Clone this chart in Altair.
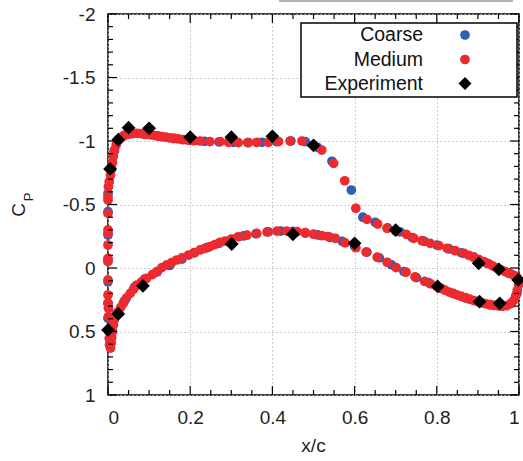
import altair as alt
import pandas as pd

# ---------------- data ----------------
# Medium grid (red)
med_x = [
    # leading-edge vertical string
    0.001, 0.0, 0.0, 0.0, 0.0, 0.0, 0.0, 0.0, 0.0, 0.0, 0.0, 0.0, 0.001, 0.001, 0.002, 0.003, 0.004, 0.006,
    # upper surface
    0.003, 0.006, 0.009, 0.011, 0.013, 0.016, 0.020, 0.024, 0.029, 0.035, 0.041, 0.047, 0.054, 0.062,
    0.071, 0.080, 0.088, 0.096, 0.105, 0.114, 0.122, 0.131, 0.140, 0.150, 0.160, 0.171, 0.183, 0.195,
    0.209, 0.224, 0.248, 0.273, 0.293, 0.317, 0.342, 0.362, 0.390, 0.415, 0.443, 0.472, 0.500, 0.520,
    0.549, 0.576, 0.603, 0.630, 0.656, 0.679, 0.700, 0.726, 0.744, 0.764, 0.784, 0.805, 0.825, 0.845,
    0.866, 0.878, 0.890, 0.902, 0.914, 0.926, 0.937, 0.947, 0.957, 0.966, 0.975, 0.983, 0.990, 0.995, 0.999,
    # lower surface, trailing edge forward
    0.999, 0.996, 0.992, 0.987, 0.980, 0.970, 0.960, 0.950, 0.940, 0.930, 0.920, 0.910, 0.900, 0.890,
    0.880, 0.870, 0.860, 0.850, 0.840, 0.830, 0.820, 0.810, 0.800, 0.785, 0.770, 0.747, 0.725, 0.701,
    0.679, 0.655, 0.628, 0.603, 0.577, 0.553, 0.535, 0.520, 0.500, 0.480, 0.460, 0.435, 0.411, 0.387,
    0.362, 0.338, 0.317, 0.301, 0.285, 0.273, 0.260, 0.248, 0.236, 0.224, 0.210, 0.196, 0.180, 0.167,
    0.155, 0.143, 0.131, 0.119, 0.108, 0.094, 0.082, 0.070, 0.062, 0.054, 0.045, 0.037, 0.031, 0.025,
    0.019, 0.015, 0.013, 0.011, 0.009, 0.008,
]
med_cp = [
    -0.640, -0.562, -0.535, -0.430, -0.300, -0.273, -0.181, -0.076, -0.050, 0.094, 0.213, 0.278, 0.317, 0.383, 0.500, 0.554, 0.606, 0.630,
    -0.680, -0.730, -0.780, -0.830, -0.880, -0.930, -0.970, -1.000, -1.020, -1.035, -1.046, -1.052, -1.056, -1.060,
    -1.060, -1.058, -1.055, -1.052, -1.048, -1.043, -1.038, -1.034, -1.030, -1.025, -1.020, -1.016, -1.010, -1.006,
    -1.002, -1.000, -0.995, -0.995, -0.990, -0.987, -0.987, -0.990, -0.990, -0.995, -1.000, -1.000, -0.968, -0.929,
    -0.824, -0.687, -0.470, -0.383, -0.346, -0.313, -0.290, -0.265, -0.234, -0.215, -0.194, -0.176, -0.155, -0.136,
    -0.116, -0.100, -0.085, -0.068, -0.050, -0.033, -0.015, 0.000, 0.015, 0.028, 0.040, 0.050, 0.062, 0.075, 0.095,
    0.130, 0.175, 0.220, 0.255, 0.280, 0.296, 0.300, 0.299, 0.295, 0.289, 0.282, 0.274, 0.265, 0.256,
    0.246, 0.235, 0.224, 0.213, 0.202, 0.190, 0.175, 0.160, 0.145, 0.125, 0.105, 0.070, 0.033, -0.003,
    -0.045, -0.085, -0.125, -0.160, -0.198, -0.234, -0.248, -0.254, -0.266, -0.278, -0.286, -0.290, -0.290, -0.284,
    -0.272, -0.258, -0.246, -0.228, -0.212, -0.202, -0.185, -0.168, -0.155, -0.142, -0.122, -0.102, -0.080, -0.063,
    -0.043, -0.024, -0.003, 0.029, 0.052, 0.081, 0.108, 0.134, 0.167, 0.200, 0.235, 0.278, 0.310, 0.344,
    0.375, 0.410, 0.450, 0.500, 0.550, 0.590,
]

# Coarse grid (blue)
coarse_x = [
    0.0, 0.0, 0.0, 0.0, 0.0, 0.0, 0.0, 0.004,
    0.008, 0.015, 0.025, 0.040, 0.060, 0.090, 0.120, 0.160, 0.200, 0.235, 0.270, 0.305, 0.340, 0.375,
    0.410, 0.445, 0.480, 0.510, 0.545, 0.592, 0.620, 0.650, 0.680, 0.710, 0.740, 0.770, 0.800, 0.830,
    0.860, 0.890, 0.920, 0.950, 0.975, 0.995,
    0.010, 0.020, 0.040, 0.065, 0.090, 0.120, 0.150, 0.180, 0.210, 0.240, 0.270, 0.300, 0.330, 0.360,
    0.390, 0.420, 0.450, 0.480, 0.510, 0.540, 0.570, 0.600, 0.630, 0.660, 0.690, 0.720, 0.750, 0.780,
    0.810, 0.840, 0.870, 0.900, 0.930, 0.960, 0.980, 0.995, 1.0,
]
coarse_cp = [
    -0.588, -0.443, -0.260, -0.063, 0.108, 0.278, 0.396, 0.600,
    -0.780, -0.920, -1.010, -1.045, -1.058, -1.053, -1.040, -1.020, -1.005, -0.998, -0.993, -0.990, -0.988, -0.990,
    -0.995, -1.000, -0.995, -0.950, -0.840, -0.614, -0.400, -0.360, -0.315, -0.285, -0.240, -0.210, -0.180, -0.150,
    -0.120, -0.085, -0.040, 0.005, 0.040, 0.080,
    0.500, 0.360, 0.260, 0.150, 0.085, 0.030, -0.020, -0.070, -0.120, -0.160, -0.195, -0.225, -0.252, -0.270,
    -0.285, -0.290, -0.288, -0.275, -0.260, -0.242, -0.210, -0.170, -0.125, -0.080, -0.025, 0.028, 0.075, 0.115,
    0.160, 0.200, 0.235, 0.265, 0.290, 0.300, 0.280, 0.200, 0.120,
]

# Experiment (black diamonds)
exp_x = [0.005, 0.025, 0.050, 0.100, 0.200, 0.300, 0.400, 0.500, 0.700, 0.902, 0.951, 0.998,
         0.000, 0.025, 0.085, 0.301, 0.450, 0.600, 0.802, 0.904, 0.953]
exp_cp = [-0.780, -1.010, -1.105, -1.100, -1.030, -1.030, -1.037, -0.965, -0.299, -0.037, 0.010, 0.094,
          0.488, 0.362, 0.140, -0.189, -0.265, -0.194, 0.145, 0.265, 0.278]

x_major = [0, 0.2, 0.4, 0.6, 0.8, 1]
x_minor = [0.05, 0.1, 0.15, 0.25, 0.3, 0.35, 0.45, 0.5, 0.55, 0.65, 0.7, 0.75, 0.85, 0.9, 0.95]
y_major = [-2, -1.5, -1, -0.5, 0, 0.5, 1]
y_minor = [-1.9, -1.8, -1.7, -1.6, -1.4, -1.3, -1.2, -1.1, -0.9, -0.8, -0.7, -0.6,
           -0.4, -0.3, -0.2, -0.1, 0.1, 0.2, 0.3, 0.4, 0.6, 0.7, 0.8, 0.9]

legend_names = ["Coarse", "Medium", "Experiment"]

# ---------------- styling ----------------
FONT = "Liberation Sans"
W, H = 411, 381
RED = "#ec2a30"
BLUE = "#2c5fb6"
DOT = 95

xs = alt.Scale(domain=[0, 1], nice=False, zero=False)
ys = alt.Scale(domain=[-2, 1], reverse=True, nice=False, zero=False)

df_med = pd.DataFrame({"x": med_x, "cp": med_cp})
df_coarse = pd.DataFrame({"x": coarse_x, "cp": coarse_cp})
df_exp = pd.DataFrame({"x": exp_x, "cp": exp_cp})
one = pd.DataFrame({"a": [0]})

x_axis = alt.Axis(values=x_major, labelExpr="datum.value + ''", title=None, grid=True,
                  gridColor="#bdbdbd", gridDash=[1.5, 2.5], gridWidth=1, ticks=False, tickSize=0,
                  domain=False, labelFontSize=19, labelFont=FONT, labelColor="#222",
                  labelPadding=13)
y_axis = alt.Axis(values=y_major, labelExpr="datum.value + ''", title=None, grid=True,
                  gridColor="#bdbdbd", gridDash=[1.5, 2.5], gridWidth=1, ticks=False, tickSize=0,
                  domain=False, labelFontSize=19, labelFont=FONT, labelColor="#222",
                  labelPadding=13)

def X(f):
    return alt.X(f, scale=xs, axis=x_axis)

def Y(f):
    return alt.Y(f, scale=ys, axis=y_axis)

coarse = alt.Chart(df_coarse).mark_circle(size=DOT, opacity=1, color=BLUE).encode(
    x=X("x:Q"), y=Y("cp:Q"))
medium = alt.Chart(df_med).mark_circle(size=DOT, opacity=1, color=RED).encode(
    x=X("x:Q"), y=Y("cp:Q"))
exper = alt.Chart(df_exp).mark_point(shape="diamond", filled=True, size=190, opacity=1,
                                     color="black").encode(x=X("x:Q"), y=Y("cp:Q"))

def xticks(vals, length, top):
    d = pd.DataFrame({"x": vals})
    if top:
        yy, yy2 = 0, length
    else:
        yy, yy2 = H, H - length
    return alt.Chart(d).mark_rule(color="black", strokeWidth=1.2).encode(
        x=X("x:Q"), y=alt.value(yy), y2=alt.value(yy2))

def yticks(vals, length, right):
    d = pd.DataFrame({"cp": vals})
    if right:
        xx, xx2 = W, W - length
    else:
        xx, xx2 = 0, length
    return alt.Chart(d).mark_rule(color="black", strokeWidth=1.2).encode(
        y=Y("cp:Q"), x=alt.value(xx), x2=alt.value(xx2))

ticks = [xticks(x_major, 9, False), xticks(x_major, 9, True),
         xticks(x_minor, 5, False), xticks(x_minor, 5, True),
         yticks(y_major, 9, False), yticks(y_major, 9, True),
         yticks(y_minor, 5, False), yticks(y_minor, 5, True)]

# legend (manual, label left of symbol)
legend_box = alt.Chart(one).mark_rect(fill="white", stroke="black", strokeWidth=1.5).encode(
    x=alt.value(193), x2=alt.value(409), y=alt.value(9), y2=alt.value(83))
legend_rows_y = [21, 45.5, 69.5]
legend_colors = [BLUE, RED, "black"]
legend_shapes = ["circle", "circle", "diamond"]
legend_sizes = [DOT, DOT, 170]
legend_layers = []
for name, ly, c, shp, sz in zip(legend_names, legend_rows_y, legend_colors, legend_shapes, legend_sizes):
    legend_layers.append(
        alt.Chart(pd.DataFrame({"name": [name]})).mark_text(
            align="right", baseline="middle", fontSize=19.5, font=FONT, color="#111").encode(
            text="name:N", x=alt.value(315), y=alt.value(ly)))
    legend_layers.append(
        alt.Chart(one).mark_point(shape=shp, filled=True, size=sz, opacity=1, color=c).encode(
            x=alt.value(357), y=alt.value(ly)))

# axis titles
x_title = alt.Chart(one).mark_text(fontSize=19, font=FONT, color="#222", baseline="middle",
                                   align="center").encode(
    text=alt.value("x/c"), x=alt.value(W / 2), y=alt.value(432))
c_title = alt.Chart(one).mark_text(fontSize=19, font=FONT, color="#222", baseline="middle",
                                   align="center", angle=270).encode(
    text=alt.value("C"), x=alt.value(-89), y=alt.value(196))
p_title = alt.Chart(one).mark_text(fontSize=13, font=FONT, color="#222", baseline="middle",
                                   align="center", angle=270).encode(
    text=alt.value("P"), x=alt.value(-79), y=alt.value(183))

# thin grey bar at the very top of the picture
top_bar = alt.Chart(one).mark_rule(color="#b4b4b4", strokeWidth=2).encode(
    x=alt.value(171), x2=alt.value(405), y=alt.value(-13))

chart = alt.layer(
    coarse, medium, exper, *ticks, legend_box, *legend_layers, x_title, c_title, p_title, top_bar
).properties(
    width=W, height=H,
    padding={"left": 108, "top": 14, "right": 4, "bottom": 66},
    autosize=alt.AutoSizeParams(type="none"),
    background="white",
).configure_view(stroke="black", strokeWidth=1.5)

chart.save("out.html", embed_options={"renderer": "svg", "actions": False})
